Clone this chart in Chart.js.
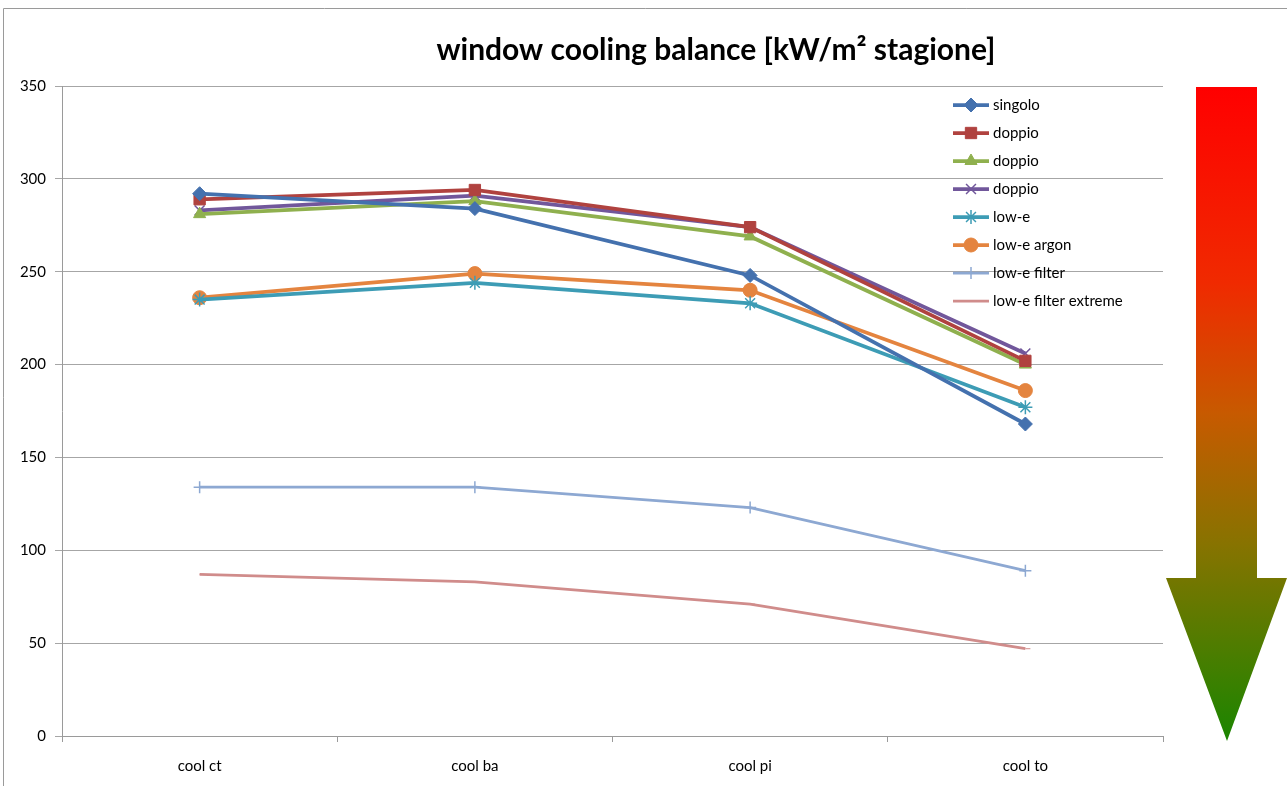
<html>
  <head>
    <script src="https://cdn.jsdelivr.net/npm/chart.js@4.4.0/dist/chart.umd.min.js"></script>
    <style>
      body { margin: 0; background: #fff; }
    </style>
  </head>
  <body>
    <canvas id="lineChart" width="1287" height="786"></canvas>
    <script>
      const chartTitle = 'window cooling balance [kW/m² stagione]';
      const categories = ['cool ct', 'cool ba', 'cool pi', 'cool to'];
      const yTicks = [0, 50, 100, 150, 200, 250, 300, 350];

      const singolo = [292, 284, 248, 168];
      const doppio1 = [289, 294, 274, 202];
      const doppio2 = [281, 288, 269, 200];
      const doppio3 = [283, 291, 274, 206];
      const lowE = [235, 244, 233, 177];
      const lowEArgon = [236, 249, 240, 186];
      const lowEFilter = [134, 134, 123, 89];
      const lowEFilterExtreme = [87, 83, 71, 47];

      const seriesNames = ['singolo', 'doppio', 'doppio', 'doppio', 'low-e', 'low-e argon', 'low-e filter', 'low-e filter extreme'];
      const seriesData = [singolo, doppio1, doppio2, doppio3, lowE, lowEArgon, lowEFilter, lowEFilterExtreme];
      const seriesColors = ['#4471AE', '#B0423F', '#8FB04E', '#71579B', '#3D9CB5', '#E4843F', '#8DA8D2', '#D08C8B'];
      const seriesMarkers = ['rectRot', 'rect', 'triangle', 'crossRot', 'star', 'circle', 'cross', 'dash'];
      const seriesRadius = [7, 8, 7, 7, 7, 7, 6, 5];
      const seriesWidth = [3.75, 3.75, 3.75, 3.75, 3.75, 3.75, 2.75, 2.75];

      const FONT = 'Lato, "Open Sans", sans-serif';

      const datasets = seriesNames.map(function(name, i) {
        return {
          label: name,
          data: seriesData[i],
          borderColor: seriesColors[i],
          backgroundColor: seriesColors[i],
          pointBackgroundColor: seriesColors[i],
          pointBorderColor: seriesColors[i],
          pointStyle: seriesMarkers[i],
          pointRadius: seriesRadius[i],
          pointBorderWidth: (i === 3 || i === 4 || i === 6) ? 1.5 : 1,
          borderWidth: seriesWidth[i],
          tension: 0
        };
      });

      // title centred where the spreadsheet put it, legend inside the plot
      const overlay = {
        id: 'overlay',
        afterDraw(chart) {
          const ctx = chart.ctx;
          ctx.save();
          ctx.fillStyle = '#000';
          ctx.font = 'bold 30px ' + FONT;
          ctx.textAlign = 'center';
          ctx.textBaseline = 'middle';
          ctx.fillText(chartTitle, 716, 50);

          const x0 = chart.chartArea.right - 210;
          let y = chart.chartArea.top + 19;
          ctx.textAlign = 'left';
          chart.data.datasets.forEach(function(ds) {
            ctx.strokeStyle = ds.borderColor;
            ctx.lineWidth = ds.borderWidth;
            ctx.beginPath();
            ctx.moveTo(x0, y);
            ctx.lineTo(x0 + 36, y);
            ctx.stroke();
            ctx.fillStyle = ds.pointBackgroundColor;
            ctx.strokeStyle = ds.pointBorderColor;
            ctx.lineWidth = ds.pointBorderWidth;
            Chart.helpers.drawPoint(ctx, {
              pointStyle: ds.pointStyle,
              radius: ds.pointRadius,
              rotation: 0,
              borderWidth: ds.pointBorderWidth
            }, x0 + 18, y);
            ctx.fillStyle = '#000';
            ctx.font = '15px ' + FONT;
            ctx.fillText(ds.label, x0 + 40, y);
            y += 28;
          });
          ctx.restore();
        }
      };

      // frame and the red-to-green arrow on the right
      const decoration = {
        id: 'decoration',
        beforeDraw(chart) {
          const ctx = chart.ctx;
          ctx.save();
          ctx.strokeStyle = '#9a9a9a';
          ctx.lineWidth = 1;
          ctx.beginPath();
          ctx.moveTo(3.5, chart.height);
          ctx.lineTo(3.5, 8.5);
          ctx.lineTo(chart.width, 8.5);
          ctx.stroke();
          ctx.restore();
        },
        afterDraw(chart) {
          const ctx = chart.ctx;
          const a = chart.chartArea;
          const cx = a.right + 64;
          const top = a.top + 1;
          const neck = a.top + 492;
          const tip = a.bottom + 5;
          const g = ctx.createLinearGradient(0, top, 0, tip);
          g.addColorStop(0, '#FF0000');
          g.addColorStop(0.3, '#F02A00');
          g.addColorStop(0.5, '#C75A00');
          g.addColorStop(0.7, '#877300');
          g.addColorStop(1, '#1A8500');
          ctx.save();
          ctx.fillStyle = g;
          ctx.beginPath();
          ctx.moveTo(cx - 31, top);
          ctx.lineTo(cx + 30, top);
          ctx.lineTo(cx + 30, neck);
          ctx.lineTo(cx + 60, neck);
          ctx.lineTo(cx, tip);
          ctx.lineTo(cx - 61, neck);
          ctx.lineTo(cx - 31, neck);
          ctx.closePath();
          ctx.fill();
          ctx.restore();
        }
      };

      window.onload = function() {
        const ctx = document.getElementById('lineChart');
        window.myLine = new Chart(ctx, {
          type: 'line',
          data: { labels: categories, datasets: datasets },
          plugins: [decoration, overlay],
          options: {
            responsive: false,
            animation: false,
            layout: { padding: { top: 86, right: 124, bottom: 0, left: 0 } },
            plugins: {
              legend: { display: false },
              tooltip: { enabled: false },
              title: { display: false }
            },
            scales: {
              x: {
                offset: true,
                afterFit(scale) { scale.height = 50; },
                grid: {
                  offset: true,
                  drawOnChartArea: false,
                  tickLength: 6,
                  color: '#9a9a9a'
                },
                border: { color: '#9a9a9a' },
                ticks: {
                  color: '#000',
                  padding: 15,
                  font: { family: FONT, size: 15 }
                }
              },
              y: {
                min: 0,
                max: 350,
                afterFit(scale) { scale.width = 62; },
                afterBuildTicks(scale) {
                  scale.ticks = yTicks.map(function(v) { return { value: v }; });
                },
                grid: {
                  color: '#a6a6a6',
                  tickLength: 7
                },
                border: { color: '#9a9a9a' },
                ticks: {
                  color: '#000',
                  padding: 9,
                  font: { family: FONT, size: 15 }
                }
              }
            }
          }
        });
      };
    </script>
  </body>
</html>
